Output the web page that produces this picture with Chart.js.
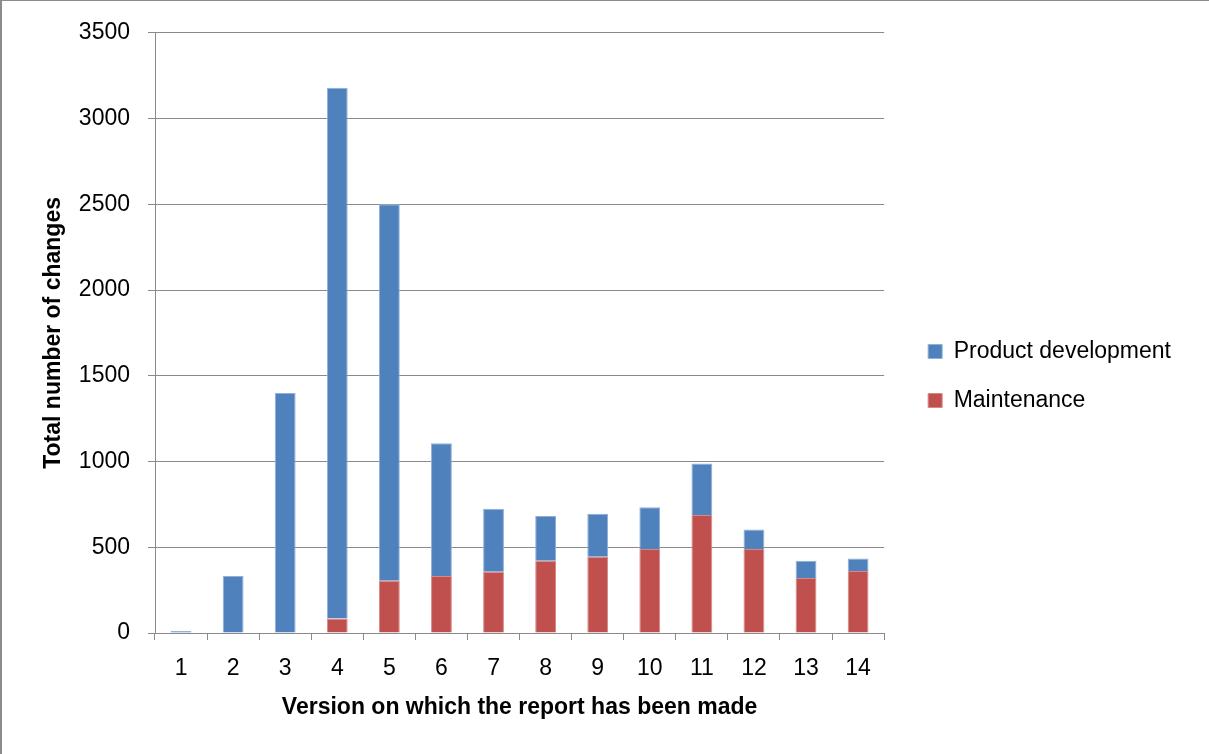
<!DOCTYPE html>
<html lang="en">
<head>
  <meta charset="UTF-8" />
  <title>Total number of changes per version</title>
  <script src="https://cdn.jsdelivr.net/npm/chart.js"></script>
  <style>
    html, body { margin: 0; padding: 0; background: #fff; }
    .frame {
      position: relative;
      width: 1209px;
      height: 754px;
      box-sizing: border-box;
      border-top: 1px solid #8c8c8c;
      border-left: 2px solid #8c8c8c;
    }
    #changesChart { position: absolute; left: 0; top: 0; }
  </style>
</head>
<body>
  <div class="frame">
    <canvas id="changesChart" width="1209" height="754"></canvas>
  </div>

  <script>
    const versions = ["1", "2", "3", "4", "5", "6", "7", "8", "9", "10", "11", "12", "13", "14"];
    const maintenance = [0, 0, 0, 85, 304, 333, 357, 421, 444, 490, 688, 490, 320, 362];
    const productDevelopment = [12, 333, 1400, 3095, 2196, 773, 367, 261, 251, 244, 300, 114, 101, 72];
    const yMin = 0;
    const yMax = 3500;
    const yStep = 500;

    const font = "'Liberation Sans', Arial, sans-serif";
    const gridGray = "#8a8a8a";

    // nudge the legend block right of the plot and up a bit
    const legendShift = {
      id: "legendShift",
      afterLayout(chart) {
        const lg = chart.legend;
        if (!lg) return;
        lg.left += 18;
        lg.right += 18;
        lg.top -= 14;
        lg.bottom -= 14;
      }
    };

    const ctx = document.getElementById("changesChart").getContext("2d");
    new Chart(ctx, {
      type: "bar",
      data: {
        labels: versions,
        datasets: [
          {
            label: "Maintenance",
            data: maintenance,
            backgroundColor: "#C0504D",
            borderColor: "#d58a88",
            borderWidth: 1,
            borderSkipped: "bottom"
          },
          {
            label: "Product development",
            data: productDevelopment,
            backgroundColor: "#4F81BD",
            borderColor: "#8fb0d8",
            borderWidth: 1,
            borderSkipped: "bottom"
          }
        ]
      },
      plugins: [legendShift],
      options: {
        responsive: false,
        animation: false,
        layout: { padding: { top: 24, right: 48, bottom: 0, left: 0 } },
        datasets: {
          bar: { categoryPercentage: 1.0, barPercentage: 0.4 }
        },
        plugins: {
          tooltip: { enabled: false },
          legend: {
            position: "right",
            reverse: true,
            labels: {
              boxWidth: 14,
              boxHeight: 14,
              padding: 26,
              color: "#000",
              font: { family: font, size: 23 }
            }
          }
        },
        scales: {
          x: {
            stacked: true,
            afterFit(scale) { scale.height = 122; },
            border: { color: gridGray, width: 1 },
            grid: {
              offset: true,
              drawOnChartArea: false,
              drawTicks: true,
              tickLength: 7,
              color: gridGray
            },
            ticks: {
              color: "#000",
              padding: 15,
              font: { family: font, size: 23 }
            },
            title: {
              display: true,
              text: "Version on which the report has been made",
              color: "#000",
              padding: { top: 0, bottom: 34 },
              font: { family: font, size: 23, weight: "bold" }
            }
          },
          y: {
            stacked: true,
            min: yMin,
            max: yMax,
            afterFit(scale) { scale.width = 153; },
            border: { color: gridGray, width: 1 },
            grid: {
              color: gridGray,
              lineWidth: 1,
              drawTicks: true,
              tickLength: 7
            },
            ticks: {
              stepSize: yStep,
              color: "#000",
              padding: 18,
              font: { family: font, size: 23 },
              callback: (value) => String(value)
            },
            title: {
              display: true,
              text: "Total number of changes",
              color: "#000",
              padding: { top: 38, bottom: 0 },
              font: { family: font, size: 23, weight: "bold" }
            }
          }
        }
      }
    });
  </script>
</body>
</html>
